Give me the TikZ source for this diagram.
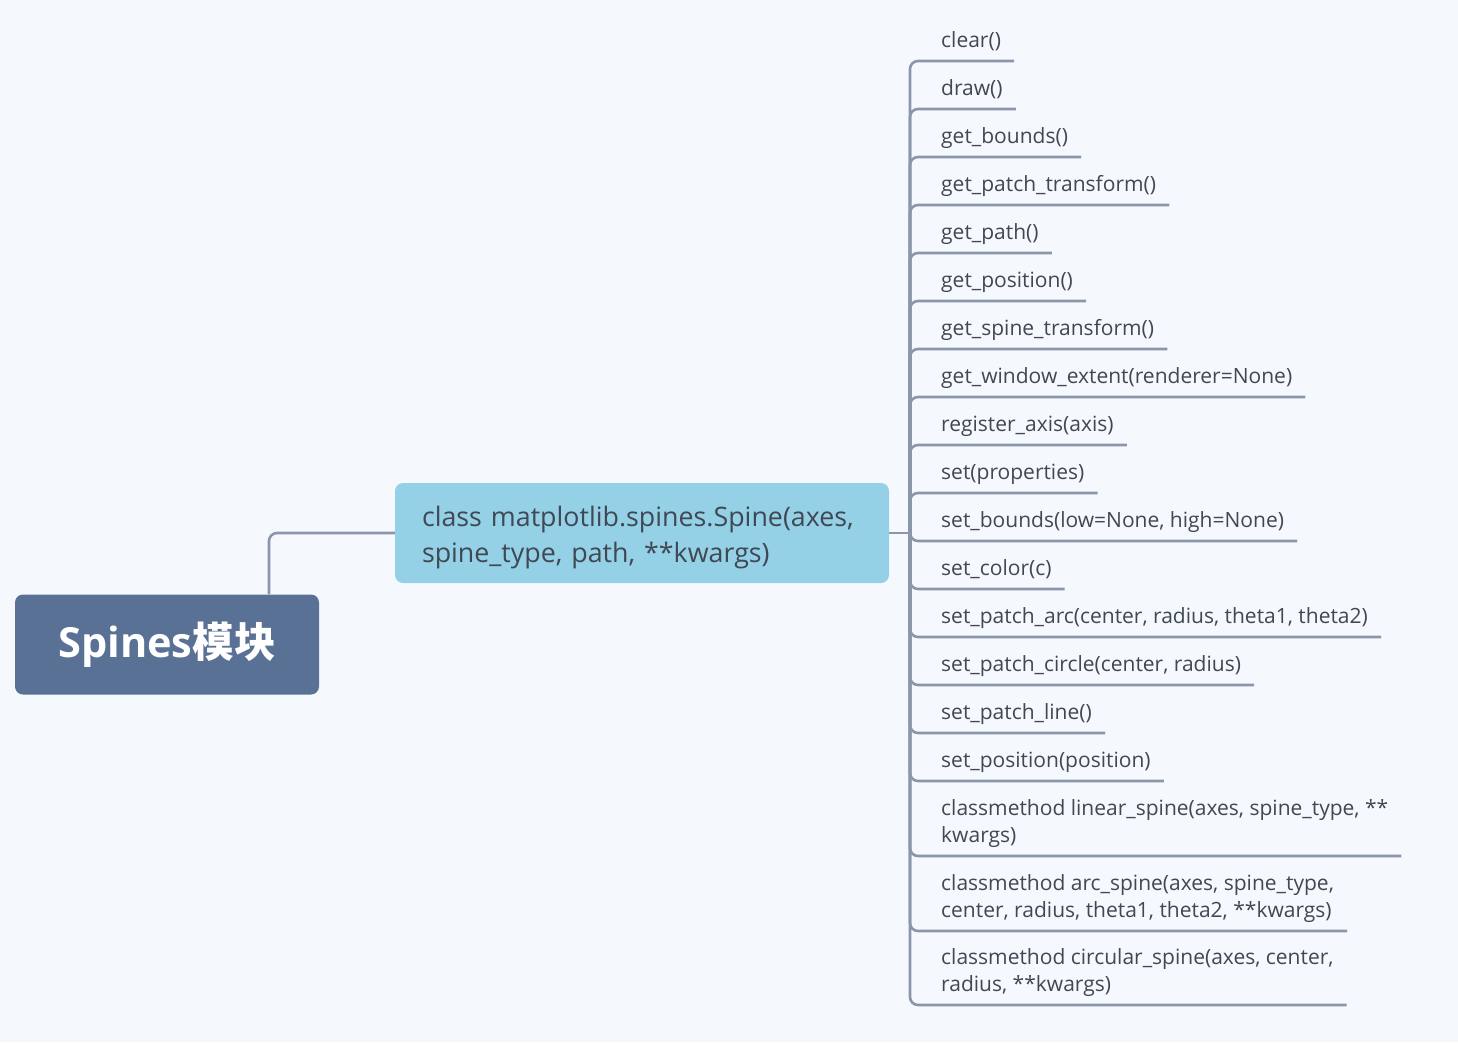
\documentclass[tikz,border=0pt]{standalone}
\usepackage{fontspec}
\setmainfont{Open Sans}
\newfontfamily\cjk{Noto Sans CJK SC}
\definecolor{bgc}{HTML}{F5F9FD}
\definecolor{rootc}{HTML}{5A7196}
\definecolor{midc}{HTML}{95D1E6}
\definecolor{linec}{HTML}{8A96AA}
\definecolor{txtc}{HTML}{3F4853}
\begin{document}
\begin{tikzpicture}[x=1pt,y=-1pt,
  rootbox/.style={fill=rootc, rounded corners=8pt, minimum width=304pt, minimum height=100pt, inner sep=0pt, text=white, font=\fontsize{41.5}{48}\selectfont\bfseries},
  midbox/.style={fill=midc, rounded corners=8pt, text width=440pt, inner xsep=27pt, minimum height=100pt, inner ysep=0pt, text=txtc, align=left, font=\fontsize{26.8}{36}\selectfont},
  leaf/.style={anchor=south west, inner xsep=13pt, inner ysep=8pt, text height=15pt, text depth=5pt, text=txtc, align=left, font=\fontsize{21}{27}\selectfont},
  branch/.style={draw=linec, line width=2.6pt, rounded corners=8pt}]
\useasboundingbox[fill=bgc] (0,0) rectangle (1458,1042);
\node[rootbox] (root) at (167,644.5) {\rule{0pt}{34pt}Spines{\cjk\bfseries 模块}};
\node[midbox] (mid) at (642,533) {\rule{0pt}{29pt}class matplotlib.spines.Spine(axes,\\spine\_type, path, **kwargs)};
\coordinate (hub) at (910,533);
\coordinate (rootout) at (269,594);
\draw[branch] (rootout) |- (mid.west);
\draw[branch] (mid.east) -- (hub);
\node[leaf] (l1) at (928,61) {clear()};
\node[leaf] (l2) at (928,109) {draw()};
\node[leaf] (l3) at (928,157) {get\_bounds()};
\node[leaf] (l4) at (928,205) {get\_patch\_transform()};
\node[leaf] (l5) at (928,253) {get\_path()};
\node[leaf] (l6) at (928,301) {get\_position()};
\node[leaf] (l7) at (928,349) {get\_spine\_transform()};
\node[leaf] (l8) at (928,397) {get\_window\_extent(renderer=None)};
\node[leaf] (l9) at (928,445) {register\_axis(axis)};
\node[leaf] (l10) at (928,493) {set(properties)};
\node[leaf] (l11) at (928,541) {set\_bounds(low=None, high=None)};
\node[leaf] (l12) at (928,589) {set\_color(c)};
\node[leaf] (l13) at (928,637) {set\_patch\_arc(center, radius, theta1, theta2)};
\node[leaf] (l14) at (928,685) {set\_patch\_circle(center, radius)};
\node[leaf] (l15) at (928,733) {set\_patch\_line()};
\node[leaf] (l16) at (928,781) {set\_position(position)};
\node[leaf] (l17) at (928,856) {classmethod linear\_spine(axes, spine\_type, **\\kwargs)};
\node[leaf] (l18) at (928,931) {classmethod arc\_spine(axes, spine\_type,\\center, radius, theta1, theta2, **kwargs)};
\node[leaf] (l19) at (928,1005) {classmethod circular\_spine(axes, center,\\radius, **kwargs)};
\foreach \i in {1,...,19} {
  \draw[branch] (hub) |- (l\i.south west) -- (l\i.south east);
}
\end{tikzpicture}
\end{document}
